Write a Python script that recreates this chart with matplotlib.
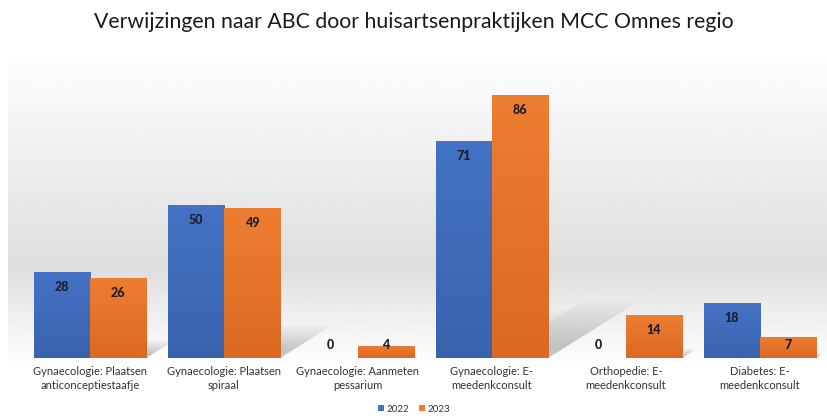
import numpy as np
import matplotlib
matplotlib.use("Agg")
import matplotlib.pyplot as plt
from matplotlib.patches import Polygon
from matplotlib.colors import LinearSegmentedColormap

plt.rcParams['font.family'] = ['Lato', 'DejaVu Sans']

categories = ["Gynaecologie: Plaatsen\nanticonceptiestaafje",
              "Gynaecologie: Plaatsen\nspiraal",
              "Gynaecologie: Aanmeten\npessarium",
              "Gynaecologie: E-\nmeedenkconsult",
              "Orthopedie: E-\nmeedenkconsult",
              "Diabetes: E-\nmeedenkconsult"]
series_names = ["2022", "2023"]
values_2022 = [28, 50, 0, 71, 0, 18]
values_2023 = [26, 49, 4, 86, 14, 7]

colors = ["#4472C4", "#ED7D31"]
dark = ["#3A63AE", "#DA6A22"]
W, H = 828, 418
fig = plt.figure(figsize=(W / 100, H / 100), dpi=100)

# background panel with grey gradient
bg = fig.add_axes([0, 0, 1, 1], zorder=-5)
bg.set_xlim(0, W); bg.set_ylim(H, 0); bg.axis("off")
grad = np.concatenate([np.linspace(1.0, 0.87, 230), np.linspace(0.87, 0.97, 80),
                       np.linspace(0.97, 1.0, 30)])
bg.imshow(np.tile(grad[:, None], (1, 2)), cmap="gray", vmin=0, vmax=1,
          extent=[8, W, 370, 50], aspect="auto", interpolation="bilinear")

ax = fig.add_axes([23 / W, 1 - 358 / H, 804 / W, 298 / H])
ax.patch.set_alpha(0)
x = np.arange(len(categories))
bw = 0.418
ax.set_xlim(-0.5, len(categories) - 0.5)
ax.set_ylim(0, 97.4)

for si, vals in enumerate([values_2022, values_2023]):
    off = (si - 0.5) * bw
    cmap = LinearSegmentedColormap.from_list("g", [dark[si], colors[si]])
    bars = ax.bar(x + off, vals, bw, color=colors[si], zorder=3, label=series_names[si])
    for b, v in zip(bars, vals):
        if v > 0:
            x0, x1 = b.get_x(), b.get_x() + b.get_width()
            im = ax.imshow(np.linspace(0, 1, 50)[:, None], cmap=cmap, aspect="auto",
                           extent=[x0, x1, 0, v], origin="lower", zorder=3.5)
            im.set_clip_path(b)
            # soft floor shadow
            for k in range(18):
                f = 1 - k * 0.045
                sh = Polygon([(x0, 0), (x1, 0), (x1 + 0.008 * v * f, 0.22 * v * f),
                              (x0 + 0.008 * v * f, 0.22 * v * f)],
                             closed=True, color="0.45", alpha=0.022, lw=0, zorder=1)
                ax.add_patch(sh)
        ly = max(v - 4.9, 4.2)
        ax.text(b.get_x() + b.get_width() / 2, ly, str(v), ha="center", va="center",
                fontsize=9, fontweight="black", color="#1c1c2c", zorder=5)

ax.set_xticks(x)
ax.set_xticklabels(categories, fontsize=8, color="#333333", linespacing=1.35)
ax.tick_params(axis="x", length=0, pad=6)
ax.set_yticks([])
for sp in ax.spines.values():
    sp.set_visible(False)

fig.legend(loc="center", bbox_to_anchor=(0.5, 1 - 409 / H), ncol=2, frameon=False,
           fontsize=7, handlelength=0.6, handleheight=0.6, handletextpad=0.3,
           columnspacing=1.0, labelcolor="#333333")

fig.text(0.5, 1 - 22 / H, "Verwijzingen naar ABC door huisartsenpraktijken MCC Omnes regio",
         ha="center", va="center", fontsize=15.3, color="#1a1a1a")

fig.savefig("out.png", dpi=100)
